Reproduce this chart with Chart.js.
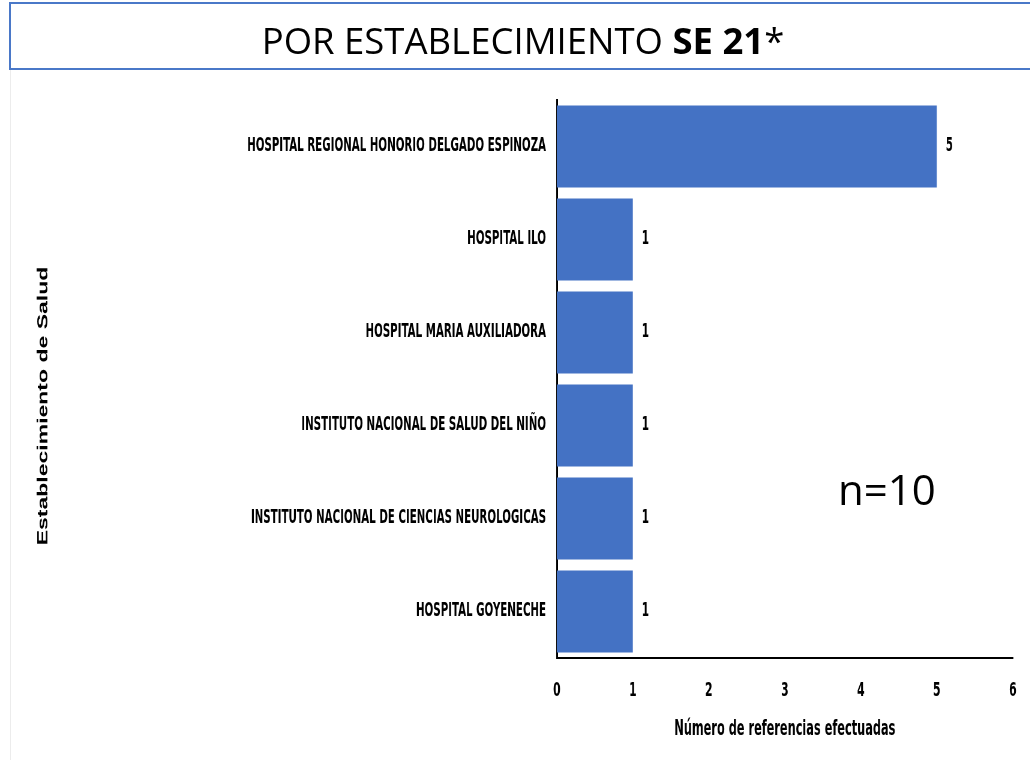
<!DOCTYPE html>
<html>
<head>
<meta charset="utf-8">
<script src="https://cdn.jsdelivr.net/npm/chart.js@4"></script>
<style>
    body { margin: 0; background: #fff; width: 1030px; height: 775px; overflow: hidden; position: relative; }
    #titulo {
        position: absolute; left: 9px; top: 2px; width: 1030px; height: 64px;
        border: 2px solid #4a78c8;
        font-family: "Open Sans", sans-serif; font-size: 36.5px; color: #000;
    }
    #titulo span.txt { position: absolute; left: 0; top: 0; width: 1024px; text-align: center; line-height: 72px; }
    #borde { position: absolute; left: 10px; top: 70px; width: 1px; height: 690px; background: #ececec; }
    #lienzo { position: absolute; left: 0; top: 0; width: 1717px; height: 775px; transform: scaleX(0.6); transform-origin: 0 0; }
    #n { position: absolute; left: 838px; top: 460px; font-family: "Open Sans", sans-serif; font-size: 42px; color: #000; }
</style>
</head>
<body>
<div id="borde"></div>
<div id="lienzo"><canvas id="grafico" width="1717" height="775"></canvas></div>
<div id="titulo"><span class="txt">POR ESTABLECIMIENTO <b>SE 21</b>*</span></div>
<div id="n">n=10</div>

<script>
// DATOS
const establecimientos = [
    "HOSPITAL REGIONAL HONORIO DELGADO ESPINOZA",
    "HOSPITAL ILO",
    "HOSPITAL MARIA AUXILIADORA",
    "INSTITUTO NACIONAL DE SALUD DEL NIÑO",
    "INSTITUTO NACIONAL DE CIENCIAS NEUROLOGICAS",
    "HOSPITAL GOYENECHE"
];
const referencias = [5, 1, 1, 1, 1, 1];
const ticksX = [0, 1, 2, 3, 4, 5, 6];
const tituloY = "Establecimiento de Salud";

const fuenteAngosta = "'Liberation Sans Narrow', 'DejaVu Sans Condensed', sans-serif";

// ETIQUETAS DE VALOR + TITULO EJE Y
const etiquetas = {
    id: "etiquetas",
    afterDatasetsDraw(chart) {
        const ctx = chart.ctx;
        const meta = chart.getDatasetMeta(0);
        ctx.save();
        ctx.font = "bold 19px " + fuenteAngosta;
        ctx.fillStyle = "#000";
        ctx.textAlign = "left";
        ctx.textBaseline = "middle";
        meta.data.forEach((bar, i) => {
            ctx.fillText(String(referencias[i]), bar.x + 15, bar.y);
        });
        ctx.restore();
    },
    afterDraw(chart) {
        const ctx = chart.ctx;
        ctx.save();
        ctx.translate(73, 406);
        ctx.rotate(-Math.PI / 2);
        ctx.font = "bold 23px 'Liberation Sans', Arial, sans-serif";
        ctx.fillStyle = "#000";
        ctx.textAlign = "center";
        ctx.textBaseline = "middle";
        ctx.fillText(tituloY, 0, 0);
        ctx.restore();
    }
};

const ctx = document.getElementById("grafico").getContext("2d");

new Chart(ctx, {
    type: "bar",
    data: {
        labels: establecimientos,
        datasets: [{
            data: referencias,
            backgroundColor: "#4472c4",
            borderWidth: 0,
            barPercentage: 0.88,
            categoryPercentage: 1
        }]
    },
    options: {
        indexAxis: "y",
        responsive: false,
        animation: false,
        devicePixelRatio: 1,
        layout: { padding: { top: 100, right: 29, bottom: 0, left: 0 } },
        plugins: {
            legend: { display: false },
            tooltip: { enabled: false }
        },
        scales: {
            x: {
                min: 0,
                max: 6,
                afterFit: s => { s.height = 117; },
                afterBuildTicks: s => { s.ticks = ticksX.map(v => ({ value: v })); },
                grid: { display: false, drawTicks: false },
                border: { display: true, color: "#000", width: 2 },
                ticks: {
                    padding: 21,
                    color: "#000",
                    font: { family: fuenteAngosta, size: 20, weight: "bold" }
                },
                title: {
                    display: true,
                    text: "Número de referencias efectuadas",
                    color: "#000",
                    font: { family: fuenteAngosta, size: 21, weight: "bold" },
                    padding: { top: 0, bottom: 33 }
                }
            },
            y: {
                afterFit: s => { s.width = 928; },
                grid: { display: false, drawTicks: false },
                border: { display: true, color: "#000", width: 3 },
                ticks: {
                    padding: 18,
                    color: "#000",
                    font: { family: fuenteAngosta, size: 19, weight: "bold" }
                }
            }
        }
    },
    plugins: [etiquetas]
});
</script>
</body>
</html>
